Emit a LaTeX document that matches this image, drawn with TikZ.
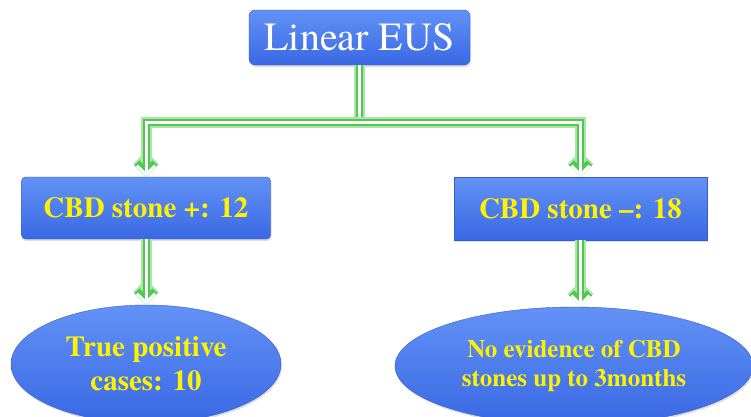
\documentclass[tikz,border=0pt]{standalone}
\usepackage{fontspec}
\setmainfont{texgyretermes}[Extension=.otf, UprightFont=*-regular, BoldFont=*-bold]
\usetikzlibrary{arrows.meta,shadows,shapes.geometric}

\definecolor{boxtop}{RGB}{98,146,246}
\definecolor{boxbot}{RGB}{58,104,228}
\definecolor{boxedge}{RGB}{52,92,200}
\definecolor{glow}{RGB}{80,200,80}
\definecolor{softglow}{RGB}{170,230,170}

\tikzset{
	blockbox/.style={draw=boxedge, top color=boxtop, bottom color=boxbot, inner sep=0pt,
		drop shadow={opacity=0.25, shadow xshift=1pt, shadow yshift=-2pt}},
	ovalbox/.style={blockbox, ellipse, align=center},
	yellowtext/.style={text=yellow, font=\bfseries\fontsize{29}{34}\selectfont},
	glowline/.style={white, line width=3pt,
		preaction={draw=softglow, line width=11pt},
		preaction={draw=glow, line width=7pt}},
	tip/.style={-{Straight Barb[length=9pt, width=18pt]}},
}

\begin{document}
\begin{tikzpicture}[x=1pt, y=-1pt]
	\clip (0,0) rectangle (751,416);
	\fill[white] (0,0) rectangle (751,416);
	
	\node[blockbox, rounded corners=6pt, minimum width=221pt, minimum height=55pt,
		text=white, font=\fontsize{40}{44}\selectfont] (eus) at (359.5,37.5) {Linear EUS};
	
	\node[blockbox, rounded corners=4pt, minimum width=249pt, minimum height=62pt,
		yellowtext] (pos) at (146,208) {CBD stone +: 12};
	\node[blockbox, minimum width=253pt, minimum height=63pt,
		yellowtext] (neg) at (580.5,208.5) {CBD stone --: 18};
	
	\node[ovalbox, minimum width=270pt, minimum height=118pt, yellowtext]
		(truepos) at (146,364) {True positive\\cases: 10};
	\node[ovalbox, minimum width=358pt, minimum height=118pt, yellowtext,
		font=\bfseries\fontsize{25}{29}\selectfont] (noev) at (574,366)
		{No evidence of CBD\\stones up to 3months};
	
	\coordinate (fork) at (359.5,122);
	
	\draw[glowline] (eus.south) -- (fork);
	\draw[glowline, tip] (fork) -| (pos.north);
	\draw[glowline, tip] (fork) -| (neg.north);
	\draw[glowline, tip] (pos.south) -- (truepos.north);
	\draw[glowline, tip] (neg.south) -- (neg.south |- noev.north);
\end{tikzpicture}
\end{document}
